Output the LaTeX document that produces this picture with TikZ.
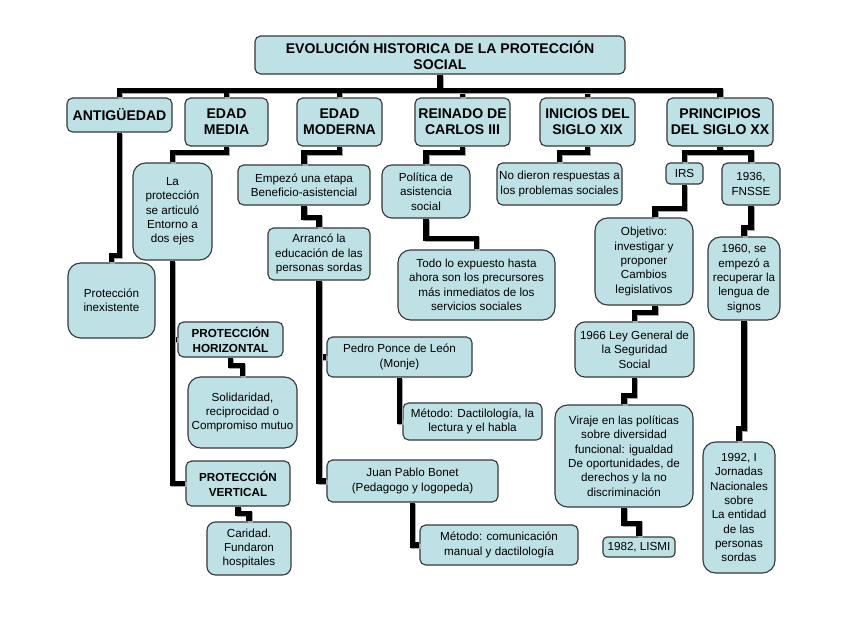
\documentclass[tikz,border=0pt]{standalone}
\usepackage{fontspec}
\setmainfont{Liberation Sans}
\usepackage{xcolor}
\definecolor{celeste}{RGB}{190,225,229}
\definecolor{borde}{RGB}{55,55,55}

\begin{document}
\begin{tikzpicture}[x=0.025cm,y=-0.025cm,
  caja/.style={draw=borde,fill=celeste,line width=0.8pt,rounded corners=4pt,align=center,inner sep=1pt,font=\fontsize{8.3}{10.2}\selectfont},
  cajag/.style={caja,rounded corners=9pt},
  cabeza/.style={caja,font=\fontsize{10}{11.4}\selectfont\bfseries},
  subcab/.style={caja,font=\fontsize{8.3}{10.8}\selectfont\bfseries},
  linea/.style={line width=3.7pt,black,preaction={draw=gray!70,line width=3.7pt,transform canvas={shift={(0.9pt,-0.9pt)}}}}]
\useasboundingbox (0,0) rectangle (848,636);

% titulo y epocas
\draw (440,55) node[cabeza,minimum width=9.25cm,minimum height=0.95cm](tit) {EVOLUCIÓN HISTORICA DE LA PROTECCIÓN\\SOCIAL};
\draw (119.5,115) node[cabeza,minimum width=2.625cm,minimum height=0.85cm](ant) {ANTIGÜEDAD};
\draw (226.5,122) node[cabeza,minimum width=2.075cm,minimum height=1.2cm](media) {EDAD\\MEDIA};
\draw (339.5,122) node[cabeza,minimum width=2.125cm,minimum height=1.2cm](moderna) {EDAD\\MODERNA};
\draw (462.5,122) node[cabeza,minimum width=2.375cm,minimum height=1.2cm](reinado) {REINADO DE\\CARLOS III};
\draw (587.5,122) node[cabeza,minimum width=2.375cm,minimum height=1.2cm](inicios) {INICIOS DEL\\SIGLO XIX};
\draw (720,122) node[cabeza,minimum width=2.65cm,minimum height=1.2cm](prin) {PRINCIPIOS\\DEL SIGLO XX};

% antiguedad y edad media
\draw (111.5,300.5) node[cajag,minimum width=2.175cm,minimum height=1.875cm](inex) {Protección\\inexistente};
\draw (172.5,211.5) node[cajag,minimum width=1.975cm,minimum height=2.425cm](prot) {La\\protección\\se articuló\\Entorno a\\dos ejes};
\draw (230.5,339.5) node[subcab,minimum width=2.625cm,minimum height=0.875cm](hor) {PROTECCIÓN\\HORIZONTAL};
\draw (242.5,412.5) node[cajag,minimum width=2.725cm,minimum height=1.775cm](soli) {Solidaridad,\\reciprocidad o\\Compromiso mutuo};
\draw (238,483.5) node[subcab,minimum width=2.6cm,minimum height=1.125cm](ver) {PROTECCIÓN\\VERTICAL};
\draw (249,548.5) node[caja,rounded corners=6pt,minimum width=2.1cm,minimum height=1.325cm](cari) {Caridad.\\Fundaron\\hospitales};

% edad moderna
\draw (304,185) node[caja,minimum width=3.3cm,minimum height=1cm](empezo) {Empezó una etapa\\Beneficio-asistencial};
\draw (319,254) node[caja,minimum width=2.55cm,minimum height=1.3cm](arranco) {Arrancó la\\educación de las\\personas sordas};
\draw (399.5,357) node[caja,minimum width=3.625cm,minimum height=1cm](pedro) {Pedro Ponce de León\\(Monje)};
\draw (472.5,421.5) node[caja,minimum width=3.475cm,minimum height=0.925cm](metodoa) {Método: Dactilología, la\\lectura y el habla};
\draw (412.5,481) node[caja,minimum width=4.275cm,minimum height=1.05cm](juan) {Juan Pablo Bonet\\(Pedagogo y logopeda)};
\draw (499,545) node[caja,minimum width=3.95cm,minimum height=1cm](metodob) {Método: comunicación\\manual y dactilología};

% carlos III y siglo XIX
\draw (426,191.5) node[caja,rounded corners=7pt,minimum width=2.2cm,minimum height=1.325cm](politica) {Política de\\asistencia\\social};
\draw (476.5,285) node[cajag,minimum width=3.925cm,minimum height=1.75cm](todo) {Todo lo expuesto hasta\\ahora son los precursores\\más inmediatos de los\\servicios sociales};
\draw (559.5,184) node[caja,minimum width=3.125cm,minimum height=1.05cm](nodieron) {No dieron respuestas a\\los problemas sociales};

% siglo XX
\draw (684.5,173.5) node[caja,rounded corners=3pt,minimum width=0.925cm,minimum height=0.525cm](irs) {IRS};
\draw (751,184) node[caja,minimum width=1.45cm,minimum height=1.05cm](fnsse) {1936,\\FNSSE};
\draw (644,261.5) node[cajag,minimum width=2.45cm,minimum height=2.175cm](objetivo) {Objetivo:\\investigar y\\proponer\\Cambios\\legislativos};
\draw (634.5,349.5) node[caja,rounded corners=7pt,minimum width=2.975cm,minimum height=1.375cm](ley) {1966 Ley General de\\la Seguridad\\Social};
\draw (624,456) node[cajag,minimum width=3.45cm,minimum height=2.55cm](viraje) {Viraje en las políticas\\sobre diversidad\\funcional: igualdad\\De oportunidades, de\\derechos y la no\\discriminación};
\draw (639,547) node[caja,rounded corners=3pt,minimum width=1.8cm,minimum height=0.5cm](lismi) {1982, LISMI};
\draw (744,278.5) node[cajag,minimum width=1.8cm,minimum height=2.075cm](signos) {1960, se\\empezó a\\recuperar la\\lengua de\\signos};
\draw (739,507.5) node[cajag,minimum width=1.8cm,minimum height=3.275cm](jornadas) {1992, I\\Jornadas\\Nacionales\\sobre\\La entidad\\de las\\personas\\sordas};

% conectores
\foreach \n in {ant,media,moderna,reinado,inicios,prin}
  \draw[linea] (tit.south) -- ++(0,16) -| (\n.north);
\draw[linea] (ant.south) -- ++(0,123) -| (inex.north);
\draw[linea] (media.south) -- ++(0,6) -| (prot.north);
\draw[linea] (prot.south) |- (hor.west);
\draw[linea] (prot.south) |- (ver.west);
\draw[linea] (hor.south) -- ++(0,8) -| (soli.north);
\draw[linea] (ver.south) -- ++(0,7) -| (cari.north);
\draw[linea] (moderna.south) -- ++(0,6) -| (empezo.north);
\draw[linea] (empezo.south) -- ++(0,12) -| (arranco.north);
\draw[linea] (arranco.south) |- (pedro.west);
\draw[linea] (arranco.south) |- (juan.west);
\draw[linea] (pedro.south) |- (metodoa.west);
\draw[linea] (juan.south) |- (metodob.west);
\draw[linea] (reinado.south) -- ++(0,6) -| (politica.north);
\draw[linea] (politica.south) -- ++(0,20) -| (todo.north);
\draw[linea] (inicios.south) -- ++(0,6) -| (nodieron.north);
\draw[linea] (prin.south) -- ++(0,6) -| (irs.north);
\draw[linea] (prin.south) -- ++(0,6) -| (fnsse.north);
\draw[linea] (irs.south) -- ++(0,24) -| ([xshift=0.275cm]objetivo.north);
\draw[linea] ([xshift=0.275cm]objetivo.south) -- ++(0,7) -| (ley.north);
\draw[linea] (ley.south) -- ++(0,18) -| (viraje.north);
\draw[linea] (viraje.south) -- ++(0,16) -| (lismi.north);
\draw[linea] (fnsse.south) -- ++(0,22) -| (signos.north);
\draw[linea] (signos.south) -- ++(0,108) -| (jornadas.north);
\end{tikzpicture}
\end{document}
